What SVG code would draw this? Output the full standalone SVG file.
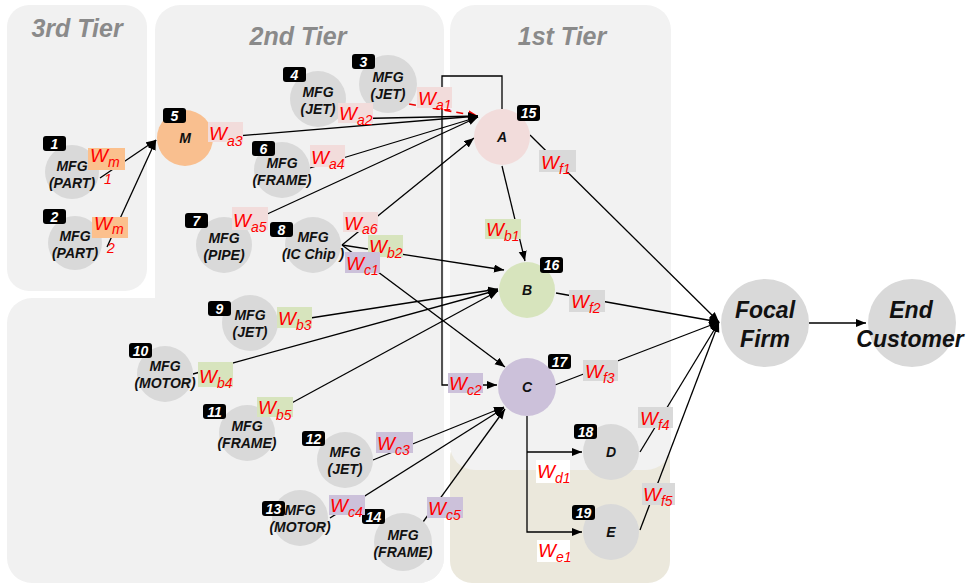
<svg xmlns="http://www.w3.org/2000/svg" width="968" height="586" viewBox="0 0 968 586">
  <defs>
    <marker id="arr" markerUnits="userSpaceOnUse" markerWidth="11" markerHeight="9" refX="10" refY="4" orient="auto">
      <path d="M0,0 L10,4 L0,8 z" fill="#000"/>
    </marker>
    <marker id="arrR" markerUnits="userSpaceOnUse" markerWidth="11" markerHeight="9" refX="10" refY="4" orient="auto">
      <path d="M0,0 L10,4 L0,8 z" fill="#e00"/>
    </marker>
    <style>
      .panel{fill:#f1f1f1}
      .tier{font-family:"Liberation Sans",Arial,sans-serif;font-weight:bold;font-style:italic;font-size:25px;fill:#8a8a8a;text-anchor:middle}
      .n{fill:#d9d9d9}
      .t{font-family:"Liberation Sans",Arial,sans-serif;font-weight:bold;font-style:italic;font-size:14px;fill:#111;text-anchor:middle}
      .big{font-size:23px}
      .bd{fill:#000}
      .bt{font-family:"Liberation Sans",Arial,sans-serif;font-weight:bold;font-style:italic;font-size:14px;fill:#fff;text-anchor:middle}
      .e{fill:none;stroke:#000;stroke-width:1.3}
      .dash{fill:none;stroke:#e00;stroke-width:1.6;stroke-dasharray:7 5}
      .w{font-family:"Liberation Sans",Arial,sans-serif;font-style:italic;font-size:19px;fill:#f00}
      .s{font-size:14px}
      .pa{fill:#f2dcdb}
      .pb{fill:#d7e4bd}
      .pc{fill:#ccc1da}
      .pf{fill:#d9d9d9}
      .pm{fill:#fbc08d}
      .pw{fill:#fff}
    </style>
  </defs>

  <!-- tier panels -->
  <g id="panels">
    <rect class="panel" x="7" y="5" width="140" height="286" rx="22"/>
    <rect class="panel" x="155" y="5" width="289" height="578" rx="25"/>
    <rect class="panel" x="7" y="298" width="437" height="285" rx="25"/>
    <rect x="450" y="436" width="220" height="147" rx="22" fill="#ebe8dc"/>
    <rect x="450" y="5" width="221" height="465" rx="25" fill="#f2f2f2"/>
    <text class="tier" x="77" y="37">3rd Tier</text>
    <text class="tier" x="298" y="45">2nd Tier</text>
    <text class="tier" x="562" y="45">1st Tier</text>
  </g>

  <!-- connectors -->
  <g id="connectors">
    <path class="e" d="M100,178 L156,140" marker-end="url(#arr)"/>
    <path class="e" d="M107,247 L156,140" marker-end="url(#arr)"/>
    <path class="dash" d="M409,104 L478,116" marker-end="url(#arrR)"/>
    <path class="e" d="M340,119 L478,116" marker-end="url(#arr)"/>
    <path class="e" d="M213,138 L478,116" marker-end="url(#arr)"/>
    <path class="e" d="M310,168 L478,117" marker-end="url(#arr)"/>
    <path class="e" d="M250,222 L478,117" marker-end="url(#arr)"/>
    <path class="e" d="M342,245 L474,138" marker-end="url(#arr)"/>
    <path class="e" d="M342,245 L504,270" marker-end="url(#arr)"/>
    <path class="e" d="M342,245 L505,367" marker-end="url(#arr)"/>
    <path class="e" d="M502,109 V76 H442 V385 H497" marker-end="url(#arr)"/>
    <path class="e" d="M502,166 L525,261" marker-end="url(#arr)"/>
    <path class="e" d="M278,323 L498,289" marker-end="url(#arr)"/>
    <path class="e" d="M193,374 L498,290" marker-end="url(#arr)"/>
    <path class="e" d="M275,412 L498,291" marker-end="url(#arr)"/>
    <path class="e" d="M373,460 L504,407" marker-end="url(#arr)"/>
    <path class="e" d="M330,518 L504,408" marker-end="url(#arr)"/>
    <path class="e" d="M423,522 L505,409" marker-end="url(#arr)"/>
    <path class="e" d="M527,416 V532 H582" marker-end="url(#arr)"/>
    <path class="e" d="M527,452 H582" marker-end="url(#arr)"/>
    <path class="e" d="M530,135 L719,322" marker-end="url(#arr)"/>
    <path class="e" d="M556,293 L719,322" marker-end="url(#arr)"/>
    <path class="e" d="M555,385 L719,322" marker-end="url(#arr)"/>
    <path class="e" d="M640,452 L719,322" marker-end="url(#arr)"/>
    <path class="e" d="M640,530 L719,322" marker-end="url(#arr)"/>
    <path class="e" d="M809,323 L866,323" marker-end="url(#arr)"/>
  </g>

  <!-- supplier nodes -->
  <g id="n1"><circle class="n" cx="72" cy="172" r="27"/><text class="t" x="72" y="171">MFG</text><text class="t" x="72" y="188">(PART)</text><rect class="bd" x="43" y="136" width="23" height="15" rx="3"/><text class="bt" x="54.5" y="149">1</text></g>
  <g id="n2"><circle class="n" cx="75" cy="243" r="27"/><text class="t" x="75" y="241">MFG</text><text class="t" x="75" y="258">(PART)</text><rect class="bd" x="43" y="209" width="23" height="15" rx="3"/><text class="bt" x="54.5" y="222">2</text></g>
  <g id="n3"><circle class="n" cx="388" cy="84" r="29"/><text class="t" x="388" y="82">MFG</text><text class="t" x="388" y="99">(JET)</text><rect class="bd" x="352" y="54" width="23" height="15" rx="3"/><text class="bt" x="363.5" y="67">3</text></g>
  <g id="n4"><circle class="n" cx="318" cy="99" r="28"/><text class="t" x="318" y="97">MFG</text><text class="t" x="318" y="114">(JET)</text><rect class="bd" x="283" y="67" width="23" height="15" rx="3"/><text class="bt" x="294.5" y="80">4</text></g>
  <g id="n5"><circle cx="185" cy="138" r="28" fill="#f9bf8f"/><text class="t" x="185" y="143">M</text><rect class="bd" x="163" y="108" width="23" height="15" rx="3"/><text class="bt" x="174.5" y="121">5</text></g>
  <g id="n6"><circle class="n" cx="282" cy="170" r="28"/><text class="t" x="282" y="168">MFG</text><text class="t" x="282" y="185">(FRAME)</text><rect class="bd" x="252" y="141" width="23" height="15" rx="3"/><text class="bt" x="263.5" y="154">6</text></g>
  <g id="n7"><circle class="n" cx="224" cy="245" r="28"/><text class="t" x="224" y="243">MFG</text><text class="t" x="224" y="260">(PIPE)</text><rect class="bd" x="185" y="213" width="23" height="15" rx="3"/><text class="bt" x="196.5" y="226">7</text></g>
  <g id="n8"><circle class="n" cx="313" cy="245" r="28"/><text class="t" x="313" y="242">MFG</text><text class="t" x="313" y="259">(IC Chip )</text><rect class="bd" x="270" y="222" width="23" height="15" rx="3"/><text class="bt" x="281.5" y="235">8</text></g>
  <g id="n9"><circle class="n" cx="250" cy="323" r="28"/><text class="t" x="250" y="320">MFG</text><text class="t" x="250" y="337">(JET)</text><rect class="bd" x="208" y="301" width="23" height="15" rx="3"/><text class="bt" x="219.5" y="314">9</text></g>
  <g id="n10"><circle class="n" cx="165" cy="374" r="28"/><text class="t" x="165" y="371">MFG</text><text class="t" x="165" y="388">(MOTOR)</text><rect class="bd" x="129" y="343" width="23" height="15" rx="3"/><text class="bt" x="140.5" y="356">10</text></g>
  <g id="n11"><circle class="n" cx="247" cy="433" r="28"/><text class="t" x="247" y="431">MFG</text><text class="t" x="247" y="448">(FRAME)</text><rect class="bd" x="203" y="404" width="23" height="15" rx="3"/><text class="bt" x="214.5" y="417">11</text></g>
  <g id="n12"><circle class="n" cx="345" cy="460" r="28"/><text class="t" x="345" y="457">MFG</text><text class="t" x="345" y="474">(JET)</text><rect class="bd" x="302" y="431" width="23" height="15" rx="3"/><text class="bt" x="313.5" y="444">12</text></g>
  <g id="n13"><circle class="n" cx="300" cy="518" r="28"/><text class="t" x="300" y="515">MFG</text><text class="t" x="300" y="532">(MOTOR)</text><rect class="bd" x="262" y="501" width="23" height="15" rx="3"/><text class="bt" x="273.5" y="514">13</text></g>
  <g id="n14"><circle class="n" cx="403" cy="542" r="29"/><text class="t" x="403" y="540">MFG</text><text class="t" x="403" y="557">(FRAME)</text><rect class="bd" x="362" y="509" width="23" height="15" rx="3"/><text class="bt" x="373.5" y="522">14</text></g>

  <!-- first-tier nodes -->
  <g id="nA"><circle cx="502" cy="137" r="28" fill="#f2dcdb"/><text class="t" x="502" y="142">A</text><rect class="bd" x="517" y="105" width="23" height="16" rx="3"/><text class="bt" x="528.5" y="118">15</text></g>
  <g id="nB"><circle cx="527" cy="290" r="28" fill="#d7e4bd"/><text class="t" x="527" y="295">B</text><rect class="bd" x="540" y="257" width="23" height="16" rx="3"/><text class="bt" x="551.5" y="270">16</text></g>
  <g id="nC"><circle cx="527" cy="387" r="29" fill="#ccc1da"/><text class="t" x="527" y="392">C</text><rect class="bd" x="548" y="354" width="23" height="15" rx="3"/><text class="bt" x="559.5" y="367">17</text></g>
  <g id="nD"><circle class="n" cx="611" cy="452" r="28"/><text class="t" x="611" y="457">D</text><rect class="bd" x="574" y="424" width="23" height="15" rx="3"/><text class="bt" x="585.5" y="437">18</text></g>
  <g id="nE"><circle class="n" cx="611" cy="532" r="28"/><text class="t" x="611" y="537">E</text><rect class="bd" x="572" y="505" width="23" height="15" rx="3"/><text class="bt" x="583.5" y="518">19</text></g>
  <g id="focal"><circle class="n" cx="765" cy="323" r="44"/><text class="t big" x="765" y="318">Focal</text><text class="t big" x="765" y="347">Firm</text></g>
  <g id="customer"><circle class="n" cx="912" cy="323" r="44"/><text class="t big" x="911" y="318">End</text><text class="t big" x="910" y="347">Customer</text></g>

  <!-- weight labels -->
  <g id="weights">
    <rect class="pm" x="88" y="148" width="37" height="22"/>
    <text class="w" x="90" y="162">W<tspan class="s" dy="5">m</tspan></text>
    <text class="w s" x="104" y="184" font-size="13">1</text>
    <rect class="pm" x="92" y="217" width="36" height="21"/>
    <text class="w" x="94" y="230">W<tspan class="s" dy="4">m</tspan></text>
    <text class="w s" x="107" y="253">2</text>

    <rect class="pa" x="417" y="87" width="35" height="21"/>
    <text class="w" x="418" y="105">W<tspan class="s" dy="5">a1</tspan></text>
    <rect class="pa" x="338" y="103" width="35" height="20"/>
    <text class="w" x="339" y="120">W<tspan class="s" dy="5">a2</tspan></text>
    <rect class="pa" x="208" y="122" width="35" height="20"/>
    <text class="w" x="209" y="140">W<tspan class="s" dy="6">a3</tspan></text>
    <rect class="pa" x="310" y="145" width="35" height="22"/>
    <text class="w" x="311" y="164">W<tspan class="s" dy="5">a4</tspan></text>
    <rect class="pa" x="232" y="207" width="36" height="23"/>
    <text class="w" x="233" y="227">W<tspan class="s" dy="5">a5</tspan></text>
    <rect class="pa" x="343" y="212" width="35" height="20"/>
    <text class="w" x="344" y="230">W<tspan class="s" dy="4">a6</tspan></text>

    <rect class="pb" x="485" y="219" width="36" height="20"/>
    <text class="w" x="486" y="236">W<tspan class="s" dy="5">b1</tspan></text>
    <rect class="pb" x="368" y="235" width="35" height="22"/>
    <text class="w" x="369" y="253">W<tspan class="s" dy="5">b2</tspan></text>
    <rect class="pb" x="277" y="307" width="35" height="21"/>
    <text class="w" x="278" y="325">W<tspan class="s" dy="5">b3</tspan></text>
    <rect class="pb" x="198" y="362" width="35" height="25"/>
    <text class="w" x="199" y="383">W<tspan class="s" dy="5">b4</tspan></text>
    <rect class="pb" x="257" y="397" width="36" height="20"/>
    <text class="w" x="258" y="414">W<tspan class="s" dy="6">b5</tspan></text>

    <rect class="pc" x="345" y="252" width="35" height="21"/>
    <text class="w" x="346" y="270">W<tspan class="s" dy="5">c1</tspan></text>
    <rect class="pc" x="448" y="373" width="35" height="20"/>
    <text class="w" x="449" y="390">W<tspan class="s" dy="5">c2</tspan></text>
    <rect class="pc" x="376" y="432" width="37" height="21"/>
    <text class="w" x="377" y="450">W<tspan class="s" dy="5">c3</tspan></text>
    <rect class="pc" x="329" y="495" width="36" height="20"/>
    <text class="w" x="330" y="512">W<tspan class="s" dy="5">c4</tspan></text>
    <rect class="pc" x="427" y="497" width="36" height="21"/>
    <text class="w" x="428" y="515">W<tspan class="s" dy="5">c5</tspan></text>

    <rect class="pw" x="536" y="460" width="34" height="23"/>
    <text class="w" x="537" y="478">W<tspan class="s" dy="5">d1</tspan></text>
    <rect class="pw" x="537" y="540" width="33" height="22"/>
    <text class="w" x="538" y="557">W<tspan class="s" dy="5">e1</tspan></text>

    <rect class="pf" x="539" y="150" width="37" height="22"/>
    <text class="w" x="541" y="169">W<tspan class="s" dy="5">f1</tspan></text>
    <rect class="pf" x="569" y="290" width="36" height="22"/>
    <text class="w" x="571" y="308">W<tspan class="s" dy="5">f2</tspan></text>
    <rect class="pf" x="583" y="360" width="35" height="21"/>
    <text class="w" x="585" y="378">W<tspan class="s" dy="5">f3</tspan></text>
    <rect class="pf" x="638" y="407" width="35" height="21"/>
    <text class="w" x="640" y="425">W<tspan class="s" dy="5">f4</tspan></text>
    <rect class="pf" x="642" y="483" width="33" height="22"/>
    <text class="w" x="643" y="501">W<tspan class="s" dy="5">f5</tspan></text>
  </g>
</svg>
